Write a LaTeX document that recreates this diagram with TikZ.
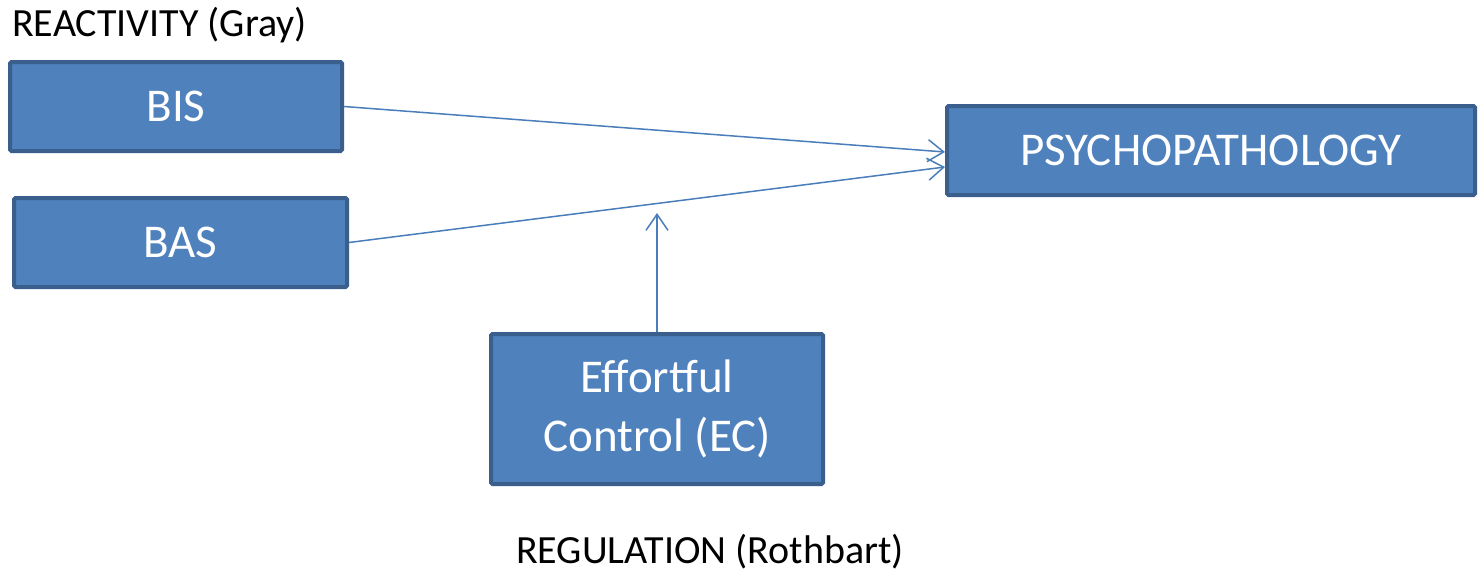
\documentclass[tikz,border=0pt]{standalone}
\usepackage{fontspec}
\setmainfont{Carlito}
\usetikzlibrary{arrows.meta}
\definecolor{boxfill}{HTML}{4F81BD}
\definecolor{boxline}{HTML}{3A5F8C}
\definecolor{arrowcol}{HTML}{4A7EBB}
\tikzset{
  box/.style={draw=boxline, fill=boxfill, line width=4pt, rounded corners=1.5pt,
    text=white, font=\fontsize{47}{59}\selectfont, align=center, inner sep=0pt},
  conn/.style={draw=arrowcol, line width=1.5pt,
    -{Straight Barb[length=16pt,width=22pt,line width=1.5pt]}},
  lbl/.style={font=\fontsize{40}{48}\selectfont, inner sep=0pt, text=black}
}
\begin{document}
\begin{tikzpicture}[x=1pt,y=-1pt]
\useasboundingbox (0,0) rectangle (1478,573);
\node[box, minimum width=332pt, minimum height=89pt] (bis) at (176,106.5) {BIS};
\node[box, minimum width=333pt, minimum height=89pt] (bas) at (180.5,242.5) {BAS};
\node[box, minimum width=528pt, minimum height=89pt] (psy) at (1211,150.5) {PSYCHOPATHOLOGY};
\node[box, minimum width=332pt, minimum height=150pt] (ec) at (657,409) {Effortful\\Control (EC)};
\node[lbl, anchor=west] (react) at (12,25) {REACTIVITY (Gray)};
\node[lbl] (reg) at (710,552) {REGULATION (Rothbart)};
\coordinate (ectip) at (657,213);
\draw[conn] (bis.east) -- ([yshift=-1.5pt]psy.west);
\draw[conn] (bas.east) -- ([yshift=-16.5pt]psy.west);
\draw[conn] (ec.north) -- (ectip);
\end{tikzpicture}
\end{document}
